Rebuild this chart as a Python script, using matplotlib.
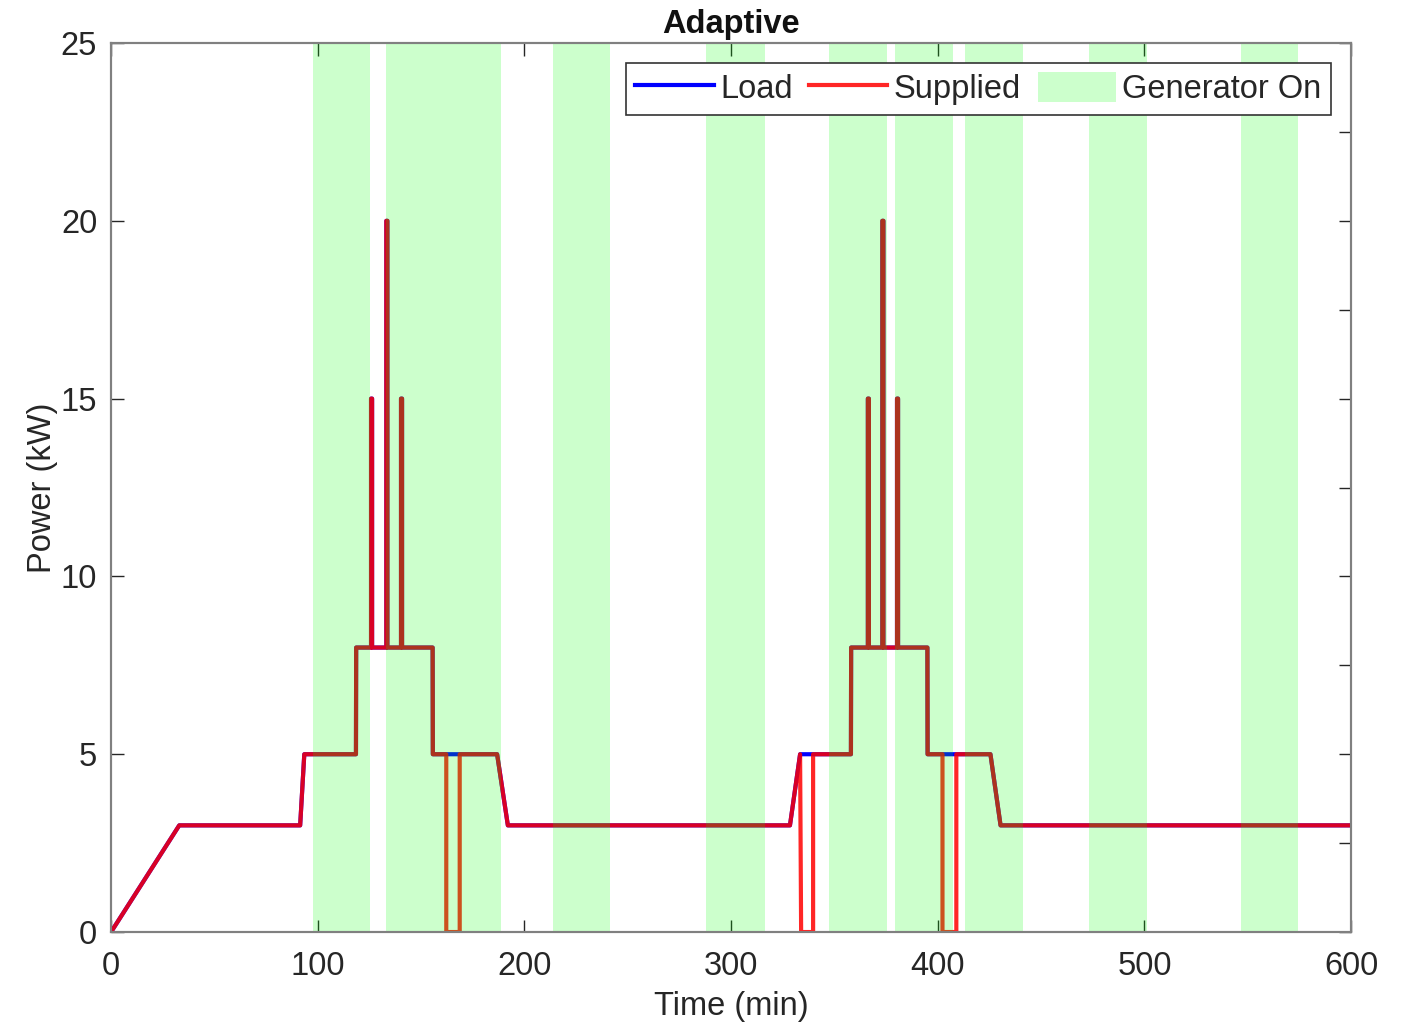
import matplotlib.pyplot as plt

# time axis (min) and power (kW) breakpoints
load_t = [0, 33, 91.5, 93.5, 118.5, 118.6,
          125.8, 125.8, 126.3, 126.3, 133.2, 133.2, 133.7, 133.7,
          140.3, 140.3, 140.8, 140.8, 155.6, 155.7, 186.8, 192,
          328.5, 333.4, 358, 358.1,
          366.2, 366.2, 366.7, 366.7, 373.2, 373.2, 373.7, 373.7,
          380.3, 380.3, 380.8, 380.8, 395, 395.1, 425.5, 430.4, 600]
load_kw = [0, 3, 3, 5, 5, 8,
           8, 15, 15, 8, 8, 20, 20, 8,
           8, 15, 15, 8, 8, 5, 5, 3,
           3, 5, 5, 8,
           8, 15, 15, 8, 8, 20, 20, 8,
           8, 15, 15, 8, 8, 5, 5, 3, 3]

supplied_t = [0, 33, 91.5, 93.5, 118.5, 118.6,
              125.8, 125.8, 126.3, 126.3, 133.2, 133.2, 133.7, 133.7,
              140.3, 140.3, 140.8, 140.8, 155.6, 155.7,
              162.2, 162.2, 168.7, 168.7, 186.8, 192,
              328.5, 333.4, 333.9, 339.7, 339.7, 358, 358.1,
              366.2, 366.2, 366.7, 366.7, 373.2, 373.2, 373.7, 373.7,
              380.3, 380.3, 380.8, 380.8, 395, 395.1,
              402.3, 402.3, 409, 409, 425.5, 430.4, 600]
supplied_kw = [0, 3, 3, 5, 5, 8,
               8, 15, 15, 8, 8, 20, 20, 8,
               8, 15, 15, 8, 8, 5,
               5, 0, 0, 5, 5, 3,
               3, 5, 0, 0, 5, 5, 8,
               8, 15, 15, 8, 8, 20, 20, 8,
               8, 15, 15, 8, 8, 5,
               5, 0, 0, 5, 5, 3, 3]

# generator on intervals (start, end) in min
gen_start = [97.7, 133.2, 213.9, 287.9, 347.4, 379.3, 413.2, 473.2, 546.8]
gen_end = [125.3, 188.7, 241.4, 316.4, 375.5, 407.4, 441.3, 501.3, 574.4]

plt.rcParams['font.family'] = ['Liberation Sans', 'DejaVu Sans']
txt = '#262626'
fs = 23.5

fig = plt.figure(figsize=(14.04, 10.24), dpi=100)
ax = fig.add_axes([0.0791, 0.0898, 0.8832, 0.8682])

ax.plot(load_t, load_kw, color='#0000ff', lw=3, label='Load', zorder=2)
ax.plot(supplied_t, supplied_kw, color='#ff0000', lw=3, alpha=0.85,
        label='Supplied', zorder=3)
for i in range(len(gen_start)):
    ax.axvspan(gen_start[i], gen_end[i], color='#00ff00', alpha=0.2, lw=0,
               label='Generator On' if i == 0 else None, zorder=4)

ax.set_xlim(0, 600)
ax.set_ylim(0, 25)
ax.set_xticks(range(0, 601, 100))
ax.set_yticks(range(0, 26, 5))
ax.tick_params(direction='in', length=9, width=1, colors=txt,
               labelsize=fs, top=True, right=False)
ax.tick_params(axis='x', pad=14)
ax.tick_params(axis='y', pad=10)

# right-hand ticks every 2.5 kW, no labels
ax2 = ax.twinx()
ax2.set_ylim(0, 25)
ax2.set_yticks([2.5 * k for k in range(11)])
ax2.tick_params(direction='in', length=9, width=1, colors=txt, labelright=False)

for a in (ax, ax2):
    for s in a.spines.values():
        s.set_color('#808080')
        s.set_linewidth(1.5)

ax.set_title('Adaptive', fontsize=fs, fontweight='bold', color='#111111', pad=7)
ax.set_xlabel('Time (min)', fontsize=fs, color=txt, labelpad=6)
ax.set_ylabel('Power (kW)', fontsize=fs, color=txt, labelpad=2)

leg = ax.legend(loc='upper right', ncol=3, fontsize=fs, frameon=True,
                fancybox=False, edgecolor='#333333', framealpha=1,
                handlelength=2.4, handletextpad=0.2, columnspacing=0.5,
                handleheight=1.0, borderpad=0.3, borderaxespad=0.6)
leg.get_frame().set_linewidth(1.2)
for t in leg.get_texts():
    t.set_color(txt)
leg.set_zorder(10)

fig.savefig('out.png', dpi=100)
